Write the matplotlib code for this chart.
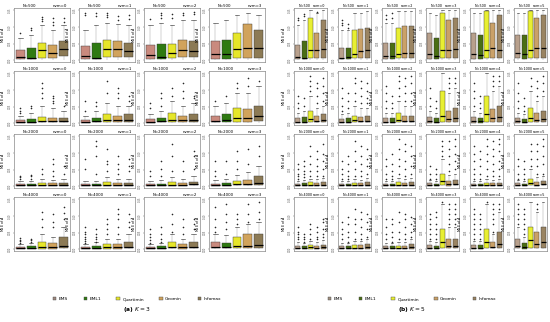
import numpy as np
import matplotlib
matplotlib.use('Agg')
import matplotlib.pyplot as plt
from matplotlib.patches import Patch

# data: rows are N, columns are nvm, innermost lists are the 5 methods
METHODS = ['EMS', 'EML1', 'Quartimin', 'Geomin', 'Infomax']
N_VALUES = [500, 1000, 2000, 4000]

K3_Q1 = [
    [[.03, .03, .05, .05, .08], [.03, .03, .07, .07, .06], [.03, .03, .05, .07, .07], [.03, .03, .05, .05, .05]],
    [[.01, .01, .02, .02, .02], [.01, .02, .03, .02, .03], [.01, .02, .03, .02, .03], [.02, .02, .03, .03, .04]],
    [[.01, .01, .01, .01, .01], [.01, .01, .01, .01, .01], [.01, .01, .01, .01, .02], [.01, .01, .02, .02, .02]],
    [[.01, .01, .01, .01, .02], [.01, .01, .01, .01, .02], [.01, .01, .02, .01, .02], [.02, .02, .03, .03, .03]],
]
K3_MED = [
    [[.06, .05, .2, .15, .22], [.08, .05, .22, .22, .18], [.1, .06, .15, .2, .18], [.12, .13, .22, .25, .25]],
    [[.03, .03, .05, .04, .04], [.03, .04, .07, .06, .07], [.03, .04, .07, .06, .07], [.05, .06, .1, .1, .15]],
    [[.02, .02, .03, .03, .03], [.02, .02, .03, .03, .03], [.02, .02, .03, .03, .04], [.03, .03, .04, .05, .07]],
    [[.02, .02, .04, .04, .07], [.02, .02, .04, .04, .05], [.02, .02, .05, .04, .05], [.05, .04, .07, .06, .08]],
]
K3_Q3 = [
    [[.2, .25, .35, .3, .38], [.28, .35, .4, .38, .35], [.3, .33, .33, .4, .38], [.38, .4, .55, .72, .6]],
    [[.06, .08, .12, .1, .1], [.07, .1, .18, .15, .18], [.08, .1, .2, .15, .18], [.15, .18, .3, .28, .35]],
    [[.04, .04, .07, .06, .07], [.04, .05, .08, .06, .07], [.04, .05, .08, .07, .09], [.05, .06, .1, .12, .2]],
    [[.05, .06, .15, .12, .25], [.05, .07, .1, .1, .15], [.05, .06, .15, .1, .15], [.15, .12, .25, .3, .3]],
]
K3_WHI = [
    [[.45, .5, .7, .6, .7], [.6, .7, .75, .72, .7], [.7, .75, .7, .8, .8], [.75, .8, .9, .95, .9]],
    [[.15, .2, .35, .3, .25], [.15, .25, .4, .35, .35], [.18, .25, .45, .35, .4], [.35, .4, .6, .6, .75]],
    [[.1, .1, .15, .13, .15], [.1, .1, .18, .15, .15], [.1, .12, .18, .15, .2], [.12, .15, .22, .28, .4]],
    [[.1, .12, .3, .25, .45], [.1, .15, .2, .2, .3], [.1, .12, .3, .2, .3], [.3, .28, .45, .5, .55]],
]
K3_OUT = [
    [[[.55], [.6, .65], [.78, .82, .86], [.7, .76, .84], [.76, .84]],
     [[.9, .95], [.88, .94], [.86, .9, .94], [.8, .88], [.82, .9]],
     [[.82], [.85, .9, .95], [.84, .92], [.9, .95], [.92, .96]],
     [[], [], [], [], []]],
    [[[.2, .25, .3], [.3, .35], [.5, .6, .7, .8], [.4, .45, .5, .55], [.35]],
     [[.25, .45], [.35, .42], [.6, .85], [.5, .6, .7], [.45, .55]],
     [[.3, .4], [.35, .5, .6], [.55, .7], [.5, .65, .8], [.5, .55]],
     [[.45], [.55], [.7, .8], [.75, .9], [.85]]],
    [[[.15, .18, .2], [.15, .2, .22], [.25, .35], [.2, .3, .45, .55], [.25, .4]],
     [[.35, .55], [.25, .6, .8, .9], [.3, .45, .5, .75], [.25, .35, .45, .6], [.3, .4, .55]],
     [[.2, .3], [.2, .35, .5], [.3, .6, .85], [.3, .5], [.35, .6, .7]],
     [[.2, .3, .5], [.25, .5], [.35, .5, .7], [.45, .75], [.6, .8]]],
    [[[.13, .16, .19, .22], [.15, .18, .21], [.45, .6, .75], [.45, .55, .7], [.6, .72, .85]],
     [[.12, .16, .2, .25, .3, .35, .45], [.15, .2, .25, .3, .4], [.3, .4, .5, .6], [.3, .45, .6, .7, .8], [.45, .55, .7]],
     [[.12, .18, .24, .3, .4], [.14, .2, .3, .45], [.35, .5, .7], [.3, .45, .6], [.4, .5, .6]],
     [[.35, .45, .6, .85], [.4, .55, .7, .9], [.5, .6, .7], [.55, .7, .9], [.6, .75, .95]]],
]

K5_Q1 = [
    [[.02, .02, .04, .04, .04], [.02, .02, .04, .04, .04], [.02, .02, .04, .04, .04],
     [.03, .02, .04, .04, .04], [.03, .02, .04, .04, .04], [.04, .03, .05, .04, .05]],
    [[.01, .01, .02, .02, .02], [.01, .01, .02, .02, .02], [.01, .01, .02, .02, .02],
     [.01, .01, .03, .02, .03], [.01, .01, .03, .02, .03], [.01, .01, .03, .02, .02]],
    [[.01, .01, .01, .01, .01], [.01, .01, .01, .01, .01], [.01, .01, .01, .01, .01],
     [.01, .01, .02, .01, .02], [.01, .01, .01, .01, .01], [.01, .01, .02, .01, .02]],
    [[.01, .01, .01, .01, .01], [.01, .01, .01, .01, .01], [.01, .01, .01, .01, .01],
     [.01, .01, .02, .02, .02], [.01, .01, .02, .02, .02], [.02, .01, .03, .02, .03]],
]
K5_MED = [
    [[.06, .04, .2, .2, .22], [.05, .06, .12, .18, .2], [.08, .08, .12, .15, .15],
     [.12, .08, .2, .2, .22], [.12, .1, .2, .25, .2], [.15, .12, .2, .25, .25]],
    [[.03, .03, .08, .05, .06], [.03, .03, .06, .05, .05], [.03, .03, .07, .05, .05],
     [.04, .03, .15, .08, .1], [.04, .04, .18, .1, .12], [.04, .03, .1, .07, .08]],
    [[.02, .02, .03, .03, .03], [.02, .02, .03, .03, .03], [.02, .02, .03, .03, .03],
     [.03, .02, .1, .04, .05], [.02, .02, .03, .03, .03], [.03, .02, .06, .03, .04]],
    [[.03, .02, .04, .03, .04], [.02, .02, .03, .03, .04], [.02, .02, .03, .03, .04],
     [.03, .03, .15, .06, .07], [.03, .03, .15, .05, .1], [.07, .04, .18, .1, .15]],
]
K5_Q3 = [
    [[.3, .38, .85, .55, .8], [.25, .25, .6, .62, .65], [.35, .35, .65, .68, .68],
     [.55, .45, .95, .8, .85], [.55, .5, .98, .75, .9], [.5, .5, .98, .85, .9]],
    [[.1, .12, .25, .15, .18], [.08, .1, .15, .12, .14], [.1, .1, .2, .15, .15],
     [.12, .1, .65, .25, .3], [.12, .1, .55, .28, .35], [.1, .08, .3, .2, .25]],
    [[.05, .06, .08, .07, .08], [.05, .05, .07, .06, .08], [.05, .05, .08, .07, .08],
     [.06, .05, .25, .1, .12], [.05, .05, .07, .06, .07], [.06, .05, .15, .08, .1]],
    [[.07, .06, .08, .07, .09], [.06, .06, .08, .08, .1], [.06, .06, .07, .07, .1],
     [.08, .07, .4, .2, .2], [.08, .08, .4, .15, .35], [.2, .12, .45, .35, .45]],
]
K5_WHI = [
    [[.7, .8, 1.0, .95, 1.0], [.6, .6, .95, .95, .98], [.75, .75, .98, .98, .98],
     [.95, .9, 1.0, 1.0, 1.0], [.95, .95, 1.0, 1.0, 1.0], [.95, .95, 1.0, 1.0, 1.0]],
    [[.2, .25, .55, .3, .35], [.18, .2, .35, .3, .3], [.2, .2, .45, .35, .35],
     [.25, .2, 1.0, .6, .7], [.25, .2, 1.0, .65, .75], [.2, .18, .65, .45, .55]],
    [[.1, .12, .15, .14, .16], [.1, .1, .14, .12, .16], [.1, .1, .16, .14, .16],
     [.12, .1, .55, .22, .25], [.1, .1, .14, .12, .14], [.12, .1, .35, .18, .2]],
    [[.15, .12, .16, .14, .18], [.12, .12, .16, .16, .2], [.12, .12, .15, .14, .2],
     [.16, .14, .9, .45, .45], [.16, .16, .9, .3, .75], [.45, .25, .95, .75, .95]],
]
K5_OUT = [
    [[[.8, .85], [.88, .92], [], [.96], []],
     [[.7, .75, .8], [.65, .72], [], [], []],
     [[.82, .9], [.85, .95], [], [], []],
     [[], [], [], [], []], [[], [], [], [], []], [[], [], [], [], []]],
    [[[.3, .4, .55], [.35, .5], [.65, .75, .85, .95], [.4, .55, .7, .8], [.45, .6, .75, .9]],
     [[.25, .35, .5, .7], [.3, .45, .6], [.45, .6, .8, .9], [.4, .55, .7, .85], [.4, .5, .65, .8]],
     [[.3, .45, .6, .75], [.3, .4, .55], [.55, .7, .85, .95], [.45, .6, .75, .9], [.45, .6, .8, .95]],
     [[.35, .5, .7], [.3, .45], [], [.7, .8, .9], [.8, .9]],
     [[.35, .5, .65, .8], [.3, .4, .55], [], [.75, .85, .95], [.85, .95]],
     [[.3, .45, .6, .8], [.25, .35, .5], [.75, .9], [.55, .7, .85], [.65, .8, .95]]],
    [[[.15, .2, .25, .35, .45], [.18, .25, .3, .4, .5], [.2, .3, .45, .6, .8], [.2, .3, .4, .55, .7], [.2, .35, .5, .65, .85]],
     [[.15, .25, .35, .5], [.15, .2, .3, .45, .6], [.2, .35, .5, .7, .9], [.2, .3, .45, .6, .8], [.25, .4, .55, .75]],
     [[.15, .25, .4, .55], [.15, .2, .3, .45, .65], [.25, .4, .55, .75, .95], [.2, .35, .5, .7, .85], [.25, .4, .6, .8]],
     [[.15, .25, .4], [.15, .25, .35], [.6, .7, .8, .9], [.3, .45, .6, .75, .9], [.35, .5, .65, .8, .95]],
     [[.15, .25, .35, .5, .65, .8], [.15, .25, .4, .55, .7], [.2, .35, .5, .65, .8, .95], [.2, .3, .45, .6, .75, .9], [.2, .35, .5, .7, .85, .95]],
     [[.15, .25, .4, .55], [.15, .25, .35, .5], [.4, .55, .7, .85], [.25, .4, .55, .7, .85], [.25, .45, .6, .8, .95]]],
    [[[.2, .25, .3, .35, .45], [.15, .2, .25, .3], [.2, .3, .4, .5], [.2, .25, .35, .45], [.25, .3, .4, .55, .6]],
     [[.2, .3, .4, .55], [.15, .25, .35, .5, .65], [.2, .35, .5, .6, .8], [.2, .3, .45, .6, .75], [.25, .4, .55, .7]],
     [[.2, .3, .45, .6], [.15, .25, .35, .5, .6], [.2, .35, .55, .75], [.2, .3, .45, .6, .7], [.25, .35, .5, .65]],
     [[.2, .3, .4, .5, .6, .7], [.2, .3, .4, .5, .65, .75], [.95], [.5, .6, .7, .8, .9], [.5, .6, .7, .8, .9]],
     [[.2, .3, .4, .5, .6, .7, .8], [.2, .3, .4, .5, .6, .7], [.95], [.35, .5, .6, .7, .8, .9], [.8, .9]],
     [[.5, .6, .7, .8, .9], [.3, .4, .5, .6, .7, .8], [], [.8, .9], []]],
]

K3_COLORS = ['#c98a7e', '#2f7a12', '#e6e62a', '#d1a35c', '#8c7a55']
K5_COLORS = ['#b8a08c', '#4a6e14', '#e8ef32', '#caa168', '#9a8462']


def draw_box_panel(ax, q1, med, q3, whi, out, colors, title_n, title_nvm, fs):
    # build the stats that bxp needs
    stats = []
    for i in range(len(med)):
        stats.append({'med': med[i], 'q1': q1[i], 'q3': q3[i],
                      'whislo': 0.0, 'whishi': whi[i], 'fliers': out[i]})
    bp = ax.bxp(stats, positions=np.arange(1, 6), widths=0.8, patch_artist=True,
                showfliers=True,
                boxprops=dict(linewidth=0.3, edgecolor='#333333'),
                medianprops=dict(color='black', linewidth=0.9),
                whiskerprops=dict(color='#555555', linewidth=0.35, linestyle=(0, (1, 1))),
                capprops=dict(color='#222222', linewidth=0.4),
                flierprops=dict(marker='o', markersize=0.9, markerfacecolor='#222222',
                                markeredgecolor='#222222', markeredgewidth=0.2))
    for patch, color in zip(bp['boxes'], colors):
        patch.set_facecolor(color)
    for cap in bp['caps'][0::2]:
        cap.set_visible(False)

    # R-like axis styling
    ax.set_xlim(0.4, 5.6)
    ax.set_ylim(-0.04, 1.04)
    ax.set_xticks([])
    ax.set_yticks([0.0, 0.33, 0.66, 1.0])
    ax.set_yticklabels(['0.00', '0.05', '0.10', '0.15'], fontsize=1.8,
                       rotation=90, va='center', color='#555555')
    ax.tick_params(axis='y', length=0.8, width=0.3, pad=0.5, colors='#555555')
    for spine in ax.spines.values():
        spine.set_linewidth(0.5)
        spine.set_color('#888888')
    ax.set_ylabel(r'MSE of $\hat{A}$', fontsize=2.4, labelpad=0.5)
    ax.set_title('N=%d' % title_n, fontsize=fs, loc='left', pad=1.0, x=0.15)
    ax.set_title('nvm=%d' % title_nvm, fontsize=fs, loc='right', pad=1.0, x=0.95)


def main():
    fig = plt.figure(figsize=(5.5, 3.22), dpi=100)
    W, H = 550.0, 322.0

    rows_top = [8, 71, 134, 197]
    row_h = 54

    # panel (a): K = 3
    cols_a = [14, 79, 144, 209]
    for r, top in enumerate(rows_top):
        for c, left in enumerate(cols_a):
            ax = fig.add_axes([left / W, 1 - (top + row_h) / H, 56 / W, row_h / H])
            draw_box_panel(ax, K3_Q1[r][c], K3_MED[r][c], K3_Q3[r][c], K3_WHI[r][c],
                           K3_OUT[r][c], K3_COLORS, N_VALUES[r], c, 2.8)

    # panel (b): K = 5
    cols_b = [294, 338, 382, 426, 470, 514]
    for r, top in enumerate(rows_top):
        for c, left in enumerate(cols_b):
            ax = fig.add_axes([left / W, 1 - (top + row_h) / H, 33 / W, row_h / H])
            draw_box_panel(ax, K5_Q1[r][c], K5_MED[r][c], K5_Q3[r][c], K5_WHI[r][c],
                           K5_OUT[r][c], K5_COLORS, N_VALUES[r], c, 2.4)

    # legends
    leg_a = [Patch(facecolor=col, edgecolor='#444444', linewidth=0.3, label=m)
             for col, m in zip(['#a08a80'] + K3_COLORS[1:], METHODS)]
    leg_b = [Patch(facecolor=col, edgecolor='#444444', linewidth=0.3, label=m)
             for col, m in zip(['#a09080'] + K5_COLORS[1:], METHODS)]
    for handles, xc in [(leg_a, 137), (leg_b, 412)]:
        fig.legend(handles=handles, loc='center', ncol=5, frameon=False,
                   bbox_to_anchor=(xc / W, 1 - 299 / H), fontsize=3.2,
                   handlelength=0.8, handleheight=0.8, handletextpad=0.5,
                   columnspacing=3.5)

    # captions
    fig.text(137 / W, 1 - 309 / H, r'$\mathbf{(a)}$ $K = 3$', ha='center', va='center',
             fontsize=4.2)
    fig.text(412 / W, 1 - 309 / H, r'$\mathbf{(b)}$ $K = 5$', ha='center', va='center',
             fontsize=4.2)

    fig.savefig('out.png', dpi=100)


if __name__ == '__main__':
    main()
